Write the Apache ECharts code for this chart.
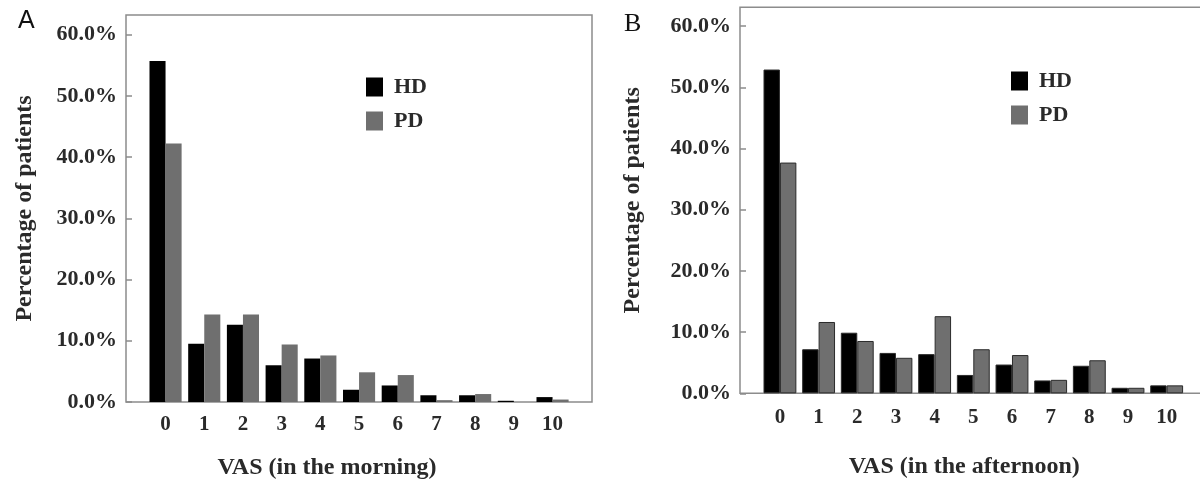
<!DOCTYPE html>
<html>
<head>
<meta charset="utf-8">
<script src="https://cdn.jsdelivr.net/npm/echarts@6/dist/echarts.min.js"></script>
<style>
  html,body{margin:0;padding:0;background:#fff;}
  #main{width:1200px;height:479px;}
</style>
</head>
<body>
<div id="main"></div>
<script>
var vasLevels = ['0','1','2','3','4','5','6','7','8','9','10'];
var seriesNames = ['HD','PD'];
// panel A : VAS in the morning (% of patients)
var morningHD = [55.7, 9.5, 12.6, 6.0, 7.1, 2.0, 2.7, 1.1, 1.1, 0.2, 0.8];
var morningPD = [42.2, 14.3, 14.3, 9.4, 7.6, 4.85, 4.4, 0.3, 1.3, 0, 0.4];
// panel B : VAS in the afternoon
var afternoonHD = [52.9, 7.2, 9.9, 6.6, 6.4, 3.0, 4.7, 2.1, 4.5, 0.9, 1.3];
var afternoonPD = [37.7, 11.65, 8.55, 5.8, 12.6, 7.2, 6.25, 2.2, 5.4, 0.9, 1.3];
var yTicks = [0, 10, 20, 30, 40, 50, 60];

var serif = '"Liberation Serif", "DejaVu Serif", serif';
var textCol = '#2a2a2a';
var frameCol = '#8c8c8c';

var myChart = echarts.init(document.getElementById('main'));

function pctLabel(v){
  return yTicks.indexOf(v) >= 0 ? v.toFixed(1) + '%' : '';
}

function frameY(gridIdx, max, nameGap){
  return {
    type:'value', gridIndex:gridIdx, min:0, max:max, interval:10,
    name:'Percentage of patients', nameLocation:'middle', nameRotate:90, nameGap:nameGap,
    nameTextStyle:{fontFamily:serif, fontWeight:'bold', fontSize:24, color:textCol},
    axisLine:{show:false},
    axisTick:{show:true, inside:true, length:6, lineStyle:{color:frameCol, width:1.5}},
    splitLine:{show:false},
    axisLabel:{showMaxLabel:false, margin:9, formatter:pctLabel,
      fontFamily:serif, fontWeight:'bold', fontSize:22, color:textCol}
  };
}

function dataX(gridIdx, name, pad, labelMargin, nameGap){
  return {
    type:'category', gridIndex:gridIdx, data:vasLevels,
    name:name, nameLocation:'middle', nameGap:nameGap,
    nameTextStyle:{fontFamily:serif, fontWeight:'bold', fontSize:24, color:textCol, padding:pad},
    axisLine:{show:false}, axisTick:{show:false},
    axisLabel:{margin:labelMargin, fontFamily:serif, fontWeight:'bold', fontSize:21, color:textCol}
  };
}

function legendAt(left, top){
  return {
    data:seriesNames, orient:'vertical', left:left, top:top,
    itemWidth:17, itemHeight:19, itemGap:12, icon:'rect',
    textStyle:{fontFamily:serif, fontWeight:'bold', fontSize:22, color:textCol, padding:[0,0,0,6]}
  };
}

function bar(name, data, xi, color, gap, border){
  return {
    name:name, type:'bar', xAxisIndex:xi, yAxisIndex:xi, data:data,
    barGap:'0%', barCategoryGap:gap,
    itemStyle:{color:color, borderColor:border ? '#2b2b2b' : color, borderWidth:border ? 1 : 0},
    emphasis:{disabled:true}
  };
}

var option = {
  animation:false,
  title:[
    {text:'A', left:13, top:4, textStyle:{fontFamily:'"Liberation Sans", sans-serif', fontWeight:'normal', fontSize:25, color:'#111'}},
    {text:'B', left:619, top:6, textStyle:{fontFamily:serif, fontWeight:'normal', fontSize:26, color:'#111'}}
  ],
  legend:[legendAt(361, 71), legendAt(1006, 65)],
  grid:[
    {left:126, top:15, width:466, height:387, show:true, borderColor:frameCol, borderWidth:1.5, outerBoundsMode:'none'},
    {left:146.2, top:15, width:425.7, height:387, outerBoundsMode:'none'},
    {left:740, top:7.3, width:480, height:386, show:true, borderColor:frameCol, borderWidth:1.5, outerBoundsMode:'none'},
    {left:760.6, top:7.3, width:425.4, height:386, outerBoundsMode:'none'}
  ],
  xAxis:[
    {type:'value', gridIndex:0, show:false},
    dataX(1, 'VAS (in the morning)', [0,64,0,0], 12, 54),
    {type:'value', gridIndex:2, show:false},
    dataX(3, 'VAS (in the afternoon)', [0,18,0,0], 14, 61)
  ],
  yAxis:[
    frameY(0, 63.2, 89),
    {type:'value', gridIndex:1, min:0, max:63.2, show:false},
    frameY(2, 63.07, 95),
    {type:'value', gridIndex:3, min:0, max:63.07, show:false}
  ],
  series:[
    bar('HD', morningHD, 1, '#000000', '17%', false),
    bar('PD', morningPD, 1, '#6f6f6f', '17%', false),
    bar('HD', afternoonHD, 3, '#000000', '15%', true),
    bar('PD', afternoonPD, 3, '#6f6f6f', '15%', true)
  ]
};

myChart.setOption(option);
</script>
</body>
</html>
